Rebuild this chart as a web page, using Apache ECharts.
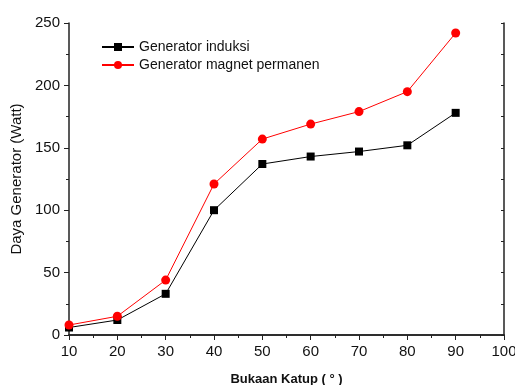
<!DOCTYPE html>
<html>
<head>
<meta charset="utf-8">
<script src="https://cdn.jsdelivr.net/npm/echarts@6/dist/echarts.min.js"></script>
<style>
  html, body { margin: 0; padding: 0; background: #fff; }
  #chart { width: 515px; height: 385px; }
</style>
</head>
<body>
<div id="chart"></div>
<script>
// data
var bukaan = [10, 20, 30, 40, 50, 60, 70, 80, 90];
var induksi = [6, 12, 33, 100, 137, 143, 147, 152, 178];
var permanen = [8, 15, 44, 121, 157, 169, 179, 195, 242];

function pairs(ys) {
    return bukaan.map(function (x, i) { return [x, ys[i]]; });
}

var font = 'Arial, "Liberation Sans", sans-serif';
var axisColor = '#222';

var myChart = echarts.init(document.getElementById('chart'));

var option = {
    animation: false,
    textStyle: { fontFamily: font },
    grid: { left: 69, right: 11, top: 23, bottom: 50, outerBoundsMode: 'none', containLabel: false },
    legend: {
        orient: 'vertical',
        left: 96,
        top: 35,
        itemWidth: 32,
        itemHeight: 10,
        itemGap: 4,
        textStyle: { fontSize: 14, color: '#111', fontFamily: font },
        data: ['Generator induksi', 'Generator magnet permanen']
    },
    xAxis: [
        {
            type: 'value', position: 'bottom',
            min: 10, max: 100, interval: 10,
            name: 'Bukaan Katup ( ° )',
            nameLocation: 'middle', nameGap: 38,
            nameTextStyle: { fontSize: 13, fontWeight: 'bold', color: '#111' },
            axisLine: { lineStyle: { color: axisColor, width: 1.5 } },
            axisTick: { inside: false, length: 5, lineStyle: { color: axisColor } },
            minorTick: { show: true, splitNumber: 2, length: 3, lineStyle: { color: axisColor } },
            axisLabel: { fontSize: 15, color: '#111', margin: 9 },
            splitLine: { show: false }
        },
        {
            type: 'value', position: 'top',
            min: 10, max: 100, interval: 10,
            axisLine: { lineStyle: { color: axisColor, width: 1.5 } },
            axisTick: { inside: true, length: 3, lineStyle: { color: axisColor } },
            minorTick: { show: true, splitNumber: 2, length: 3, lineStyle: { color: axisColor } },
            axisLabel: { show: false },
            splitLine: { show: false }
        }
    ],
    yAxis: [
        {
            type: 'value', position: 'left',
            min: 0, max: 250, interval: 50,
            name: 'Daya Generator (Watt)',
            nameLocation: 'middle', nameGap: 41,
            nameTextStyle: { fontSize: 15, color: '#111' },
            axisLine: { show: true, lineStyle: { color: axisColor, width: 1.5 } },
            axisTick: { show: true, inside: false, length: 5, lineStyle: { color: axisColor } },
            minorTick: { show: true, splitNumber: 2, length: 3, lineStyle: { color: axisColor } },
            axisLabel: { fontSize: 15, color: '#111', margin: 9 },
            splitLine: { show: false }
        },
        {
            type: 'value', position: 'right',
            min: 0, max: 250, interval: 50,
            axisLine: { show: true, lineStyle: { color: axisColor, width: 1.5 } },
            axisTick: { show: true, inside: true, length: 3, lineStyle: { color: axisColor } },
            minorTick: { show: true, splitNumber: 2, length: 3, lineStyle: { color: axisColor } },
            axisLabel: { show: false },
            splitLine: { show: false }
        }
    ],
    series: [
        {
            name: 'Generator induksi',
            type: 'line',
            data: pairs(induksi),
            symbol: 'rect',
            symbolSize: 8,
            lineStyle: { color: '#000', width: 1 },
            itemStyle: { color: '#000' }
        },
        {
            name: 'Generator magnet permanen',
            type: 'line',
            data: pairs(permanen),
            symbol: 'circle',
            symbolSize: 9,
            lineStyle: { color: '#ff0000', width: 1 },
            itemStyle: { color: '#ff0000' }
        }
    ]
};

myChart.setOption(option);
</script>
</body>
</html>
